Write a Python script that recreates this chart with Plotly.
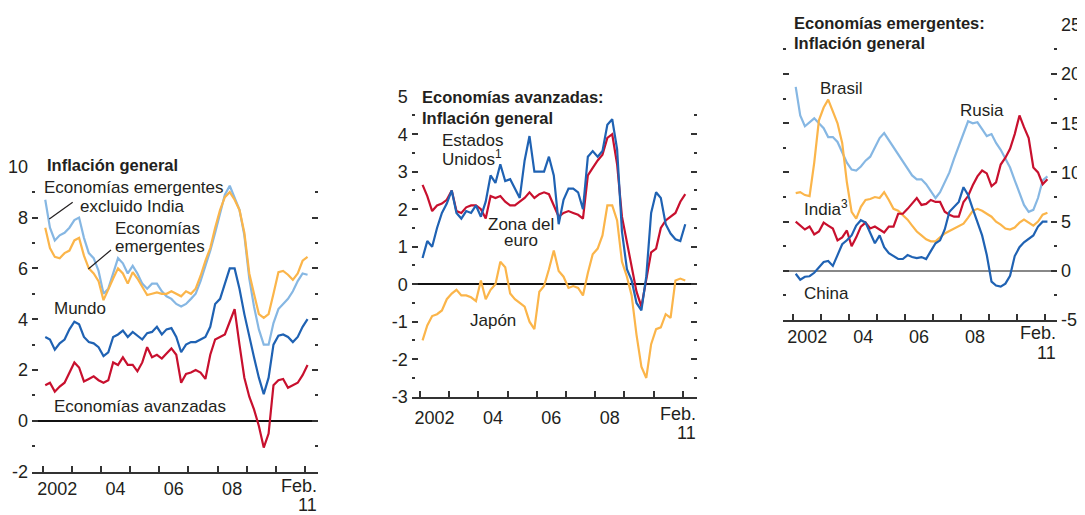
import pandas as pd
import plotly.graph_objects as go

# Meses (bimestrales) feb-2002 .. feb-2011
meses = pd.date_range("2002-02-01", "2011-02-01", freq="2MS")

# Panel 1: Inflación general
emerg_sin_india = [8.7, 7.6, 7.1, 7.3, 7.4, 7.6,
                   7.9, 8.0, 7.2, 6.6, 6.4, 5.9,
                   5.0, 5.2, 5.8, 6.4, 6.2, 5.8,
                   6.1, 5.8, 5.4, 5.2, 5.4, 5.4,
                   5.1, 4.9, 4.8, 4.6, 4.5, 4.6,
                   4.8, 5.0, 5.5, 6.1, 6.7, 7.4,
                   8.2, 8.9, 9.25, 8.8, 8.3, 7.3,
                   5.6, 4.5, 3.6, 3.0, 3.0, 3.85,
                   4.4, 4.6, 4.8, 5.1, 5.5, 5.8,
                   5.75]
emergentes = [7.6, 6.8, 6.45, 6.4, 6.6, 6.7,
              7.1, 7.2, 6.5, 6.0, 5.8, 5.5,
              4.75, 5.2, 5.6, 6.0, 5.8, 5.4,
              5.85, 5.6, 5.3, 4.95, 5.0, 5.05,
              5.0, 5.0, 5.1, 5.0, 4.9, 5.1,
              5.0, 5.2, 5.7, 6.3, 6.8, 7.6,
              8.3, 8.8, 9.0, 8.7, 8.3, 7.4,
              5.8, 5.0, 4.2, 4.05, 4.2, 5.0,
              5.85, 5.9, 5.75, 5.55, 5.8, 6.3,
              6.45]
mundo = [3.3, 3.2, 2.8, 3.05, 3.2, 3.6,
         3.9, 3.8, 3.3, 3.1, 3.05, 2.9,
         2.55, 2.7, 3.3, 3.4, 3.55, 3.3,
         3.5, 3.35, 3.2, 3.45, 3.5, 3.7,
         3.4, 3.6, 3.65, 3.3, 2.7, 3.0,
         3.1, 3.1, 3.2, 3.3, 3.7, 4.6,
         4.8, 5.4, 6.0, 6.0, 5.2, 4.2,
         3.3, 2.5, 1.7, 1.05, 1.7, 3.0,
         3.35, 3.4, 3.3, 3.1, 3.3, 3.7,
         4.0]
avanzadas = [1.4, 1.5, 1.15, 1.35, 1.5, 1.9,
             2.3, 2.1, 1.55, 1.65, 1.75, 1.6,
             1.5, 1.6, 2.3, 2.2, 2.5, 2.2,
             2.2, 1.95, 2.3, 2.9, 2.5, 2.6,
             2.45, 2.65, 2.85, 2.6, 1.5, 1.85,
             1.9, 2.0, 1.9, 1.65, 2.6, 3.2,
             3.3, 3.4, 3.9, 4.4, 3.0, 1.7,
             0.95, 0.45, -0.2, -1.05, -0.5, 1.4,
             1.6, 1.65, 1.3, 1.4, 1.5, 1.8,
             2.2]

# Panel 2: Economías avanzadas
eeuu = [0.7, 1.15, 1.0, 1.5, 1.9, 2.15,
        2.5, 1.9, 1.75, 1.95, 1.9, 2.1,
        1.8, 2.2, 2.9, 2.7, 3.2, 2.75,
        2.8, 2.55, 2.3, 3.3, 3.95, 3.0,
        3.0, 3.0, 3.4, 2.9, 1.6, 2.25,
        2.55, 2.55, 2.45, 2.0, 3.4, 3.55,
        3.4, 3.55, 4.25, 4.4, 3.6, 1.4,
        0.4, 0.1, -0.5, -0.7, 0.2, 1.9,
        2.45, 2.3, 1.6, 1.35, 1.2, 1.15,
        1.6]
zona_euro = [2.65, 2.35, 1.95, 2.1, 2.15, 2.25,
             2.5, 1.95, 1.9, 2.05, 2.1, 2.1,
             2.0, 1.75, 2.35, 2.3, 2.35, 2.2,
             2.1, 2.1, 2.2, 2.3, 2.45, 2.3,
             2.4, 2.45, 2.4, 2.1, 1.8, 1.9,
             1.95, 1.9, 1.85, 1.75, 2.9, 3.1,
             3.3, 3.45, 3.9, 4.0, 3.2, 1.8,
             1.1, 0.4, -0.2, -0.6, 0.1, 0.85,
             0.95, 1.5, 1.7, 1.8, 1.9, 2.2,
             2.4]
japon = [-1.5, -1.1, -0.85, -0.8, -0.7, -0.4,
         -0.25, -0.15, -0.3, -0.3, -0.35, -0.45,
         0.1, -0.4, -0.15, 0.0, 0.6, 0.45,
         -0.25, -0.4, -0.5, -0.6, -1.0, -1.2,
         -0.2, -0.05, 0.4, 0.9, 0.35, 0.2,
         -0.1, -0.05, -0.1, -0.3, 0.3, 0.8,
         0.95, 1.3, 2.1, 2.1, 1.7, 0.6,
         0.2, -0.3, -1.35, -2.2, -2.5, -1.6,
         -1.2, -1.15, -0.8, -0.9, 0.1, 0.15,
         0.1]

# Panel 3: Economías emergentes
rusia = [18.7, 15.8, 14.7, 15.1, 15.5, 15.0,
         14.5, 13.6, 13.6, 13.1, 12.0, 11.0,
         10.3, 10.2, 10.6, 11.2, 11.6, 12.5,
         13.5, 14.0, 13.3, 12.6, 11.9, 11.2,
         10.4, 9.7, 9.3, 9.3, 8.8, 8.1,
         7.4, 8.0, 9.0, 10.0, 11.4, 12.7,
         14.0, 15.2, 15.0, 15.1, 14.4, 13.7,
         13.9, 13.0, 12.3, 11.4, 10.5, 9.2,
         7.9, 6.7, 6.0, 6.2, 7.4, 9.2,
         9.6]
brasil = [7.9, 8.0, 7.7, 7.6, 11.0, 15.3,
          16.6, 17.4, 16.2, 15.0, 13.0, 9.0,
          6.0, 5.3, 6.5, 7.2, 7.3, 7.5,
          7.4, 8.0, 7.2, 6.3, 6.1, 5.7,
          5.2, 4.6, 4.0, 3.6, 3.2, 3.0,
          3.0, 3.4, 3.8, 4.05, 4.3, 4.5,
          4.8, 5.4, 6.1, 6.3, 6.1, 5.8,
          5.5, 5.0, 4.7, 4.3, 4.2, 4.4,
          4.9, 5.2, 4.9, 4.6, 5.0, 5.7,
          5.9]
india = [5.0, 4.65, 4.2, 4.5, 3.7, 4.0,
         4.9, 4.6, 4.3, 3.1, 3.4, 4.1,
         2.5, 3.4, 4.5, 4.9, 4.3, 4.5,
         4.2, 3.9, 4.5, 4.5, 5.8, 5.8,
         6.3, 6.9, 7.4, 6.7, 6.8, 7.2,
         7.0, 7.0, 6.0, 5.7, 5.5, 5.5,
         7.0, 7.6, 8.7, 9.6, 10.2, 9.9,
         8.6, 9.0, 10.8, 11.5, 12.4, 13.9,
         15.8, 14.6, 13.5, 10.5, 10.0, 8.8,
         9.3]
china = [-0.3, -0.9, -0.6, -0.55, -0.2, 0.4,
         0.9, 1.0, 0.5, 1.6, 2.7, 3.1,
         3.6, 4.6, 5.15, 4.9, 3.8, 2.8,
         3.6, 2.4, 1.8, 1.5, 1.2, 1.2,
         1.6, 1.4, 1.3, 1.4, 1.2, 2.0,
         2.8, 3.1, 4.2, 6.0, 6.5, 7.0,
         8.5, 7.7, 6.3, 5.0, 3.6, 1.6,
         -1.1, -1.5, -1.6, -1.3, -0.5, 1.5,
         2.4, 2.9, 3.3, 3.6, 4.5, 5.0,
         5.0]

etiquetas_x = ["2002", "04", "06", "08"]
pos_x = ["2002-07-01", "2004-07-01", "2006-07-01", "2008-07-01"]

ROJO = "#c8102e"
AZUL = "#1f62b3"
CELESTE = "#86b7e3"
NARANJA = "#fbb54a"
TXT = "#231f20"
FUENTE = "Liberation Sans, Arial, sans-serif"

# la página deja 8 px de margen al cuerpo: la figura se corre para que encaje en 1085x515
OFF = 8
W, H = 1085 - OFF, 515 - OFF


def px(x):
    return (x - OFF) / W


def py(y):
    return 1 - (y - OFF) / H


fig = go.Figure()

paneles = [
    ("x", "y", [(emerg_sin_india, CELESTE), (emergentes, NARANJA), (mundo, AZUL), (avanzadas, ROJO)]),
    ("x2", "y2", [(japon, NARANJA), (zona_euro, ROJO), (eeuu, AZUL)]),
    ("x3", "y3", [(rusia, CELESTE), (brasil, NARANJA), (india, ROJO), (china, AZUL)]),
]
for xa, ya, series in paneles:
    for valores, color in series:
        fig.add_trace(go.Scatter(x=meses, y=valores, xaxis=xa, yaxis=ya, mode="lines",
                                 line=dict(color=color, width=2.2), hoverinfo="skip"))


def eje_x(dominio, rango, ancla, separa=0):
    return dict(domain=dominio, range=rango, anchor=ancla, type="date", automargin=False,
                showgrid=False, zeroline=False,
                showline=True, linecolor="#333", linewidth=1.5,
                tickmode="array", tickvals=pos_x, ticktext=etiquetas_x, ticks="",
                ticklabelstandoff=separa,
                tickfont=dict(size=18, color=TXT, family=FUENTE),
                minor=dict(ticks="inside", ticklen=6, tickwidth=1.5, tickcolor="#333",
                           tickvals=[f"{a}-01-01" for a in range(2002, 2012)]))


def eje_y(dominio, rango, mayores, menores, textos, ancla, lado="left", cero="#111"):
    return dict(domain=dominio, range=rango, anchor=ancla, side=lado, automargin=False,
                showgrid=False, showline=False, zeroline=True, zerolinecolor=cero, zerolinewidth=1.5,
                tickmode="array", tickvals=mayores, ticktext=textos, ticks="inside",
                ticklen=6, tickwidth=2, tickcolor="#333", mirror="ticks", ticklabelstandoff=3,
                tickfont=dict(size=18, color=TXT, family=FUENTE),
                minor=dict(ticks="inside", ticklen=3, tickwidth=2, tickcolor="#333",
                           tickvals=menores))


fig.update_layout(
    width=W, height=H, margin=dict(l=0, r=0, t=0, b=0, autoexpand=False),
    paper_bgcolor="white", plot_bgcolor="white", showlegend=False,
    font=dict(family=FUENTE, color=TXT, size=17),
    xaxis=eje_x([px(32), px(318)], ["2001-08-19", "2011-06-12"], "y"),
    yaxis=eje_y([py(471.7), py(166.7)], [-2, 10], [-2, 0, 2, 4, 6, 8, 10], [-1, 1, 3, 5, 7, 9],
                ["-2", "0", "2", "4", "6", "8", "10"], "x"),
    xaxis2=eje_x([px(411.7), px(696.7)], ["2001-09-18", "2011-06-24"], "y2", separa=4),
    yaxis2=eje_y([py(396.7), py(96.7)], [-3, 5], [-3, -2, -1, 0, 1, 2, 3, 4, 5],
                 [-2.5, -1.5, -0.5, 0.5, 1.5, 2.5, 3.5, 4.5],
                 ["-3", "-2", "-1", "0", "1", "2", "3", "4", "5"], "x2"),
    xaxis3=eje_x([px(783), px(1057)], ["2001-08-19", "2011-06-06"], "y3"),
    yaxis3=eje_y([py(320), py(24.9)], [-5, 25], [-5, 0, 5, 10, 15, 20, 25],
                 [-2.5, 2.5, 7.5, 12.5, 17.5, 22.5],
                 ["-5", "0", "5", "10", "15", "20", "25"], "x3", lado="right", cero="#888"),
)

# Textos: (texto, x px, y px, anclaje x)
textos = [
    ("<b>Inflación general</b>", 45, 165.5, "left"),
    ("Economías emergentes", 42, 187.7, "left"),
    ("excluido India", 78, 206.7, "left"),
    ("Economías", 113, 228, "left"),
    ("emergentes", 113, 246.7, "left"),
    ("Mundo", 52, 308.3, "left"),
    ("Economías avanzadas", 52, 406.7, "left"),
    ("<b>Economías avanzadas:</b>", 419.5, 96.7, "left"),
    ("<b>Inflación general</b>", 419.5, 118.3, "left"),
    ("Estados", 440, 140, "left"),
    ("Unidos<sup>1</sup>", 440, 158.3, "left"),
    ("Zona del", 521, 225, "center"),
    ("euro", 521, 240.5, "center"),
    ("Japón", 468, 320, "left"),
    ("<b>Economías emergentes:</b>", 791.5, 23.3, "left"),
    ("<b>Inflación general</b>", 791.5, 43.3, "left"),
    ("Brasil", 818, 88.3, "left"),
    ("Rusia", 958, 110, "left"),
    ("India<sup>3</sup>", 801.5, 208.3, "left"),
    ("China", 801.5, 293.3, "left"),
]
for t, x, y, anc in textos:
    fig.add_annotation(text=t, x=px(x), y=py(y), xref="paper", yref="paper",
                       xanchor=anc, yanchor="middle", showarrow=False,
                       font=dict(size=16.5 if t.startswith("<b>") else 17, color=TXT, family=FUENTE))

# "Feb." / "11" al final de cada eje de tiempo (borde derecho, centro de cada línea)
for xr, y_feb, y_11 in ((318, 485.5, 504.5), (696.7, 414, 433.3), (1057, 332.5, 353)):
    for t, y in (("Feb.", y_feb), ("11", y_11)):
        fig.add_annotation(text=t, x=px(xr + 1), y=py(y), xref="paper", yref="paper",
                           xanchor="right", yanchor="middle", showarrow=False,
                           font=dict(size=18, color=TXT, family=FUENTE))

# Líneas guía de las etiquetas
for x0, y0, x1, y1 in [(49.3, 219, 72.7, 202.3), (88.3, 269, 111, 250)]:
    fig.add_shape(type="line", xref="paper", yref="paper", x0=px(x0), y0=py(y0), x1=px(x1), y1=py(y1),
                  line=dict(color=TXT, width=1.2))

fig.write_html("out.html")
